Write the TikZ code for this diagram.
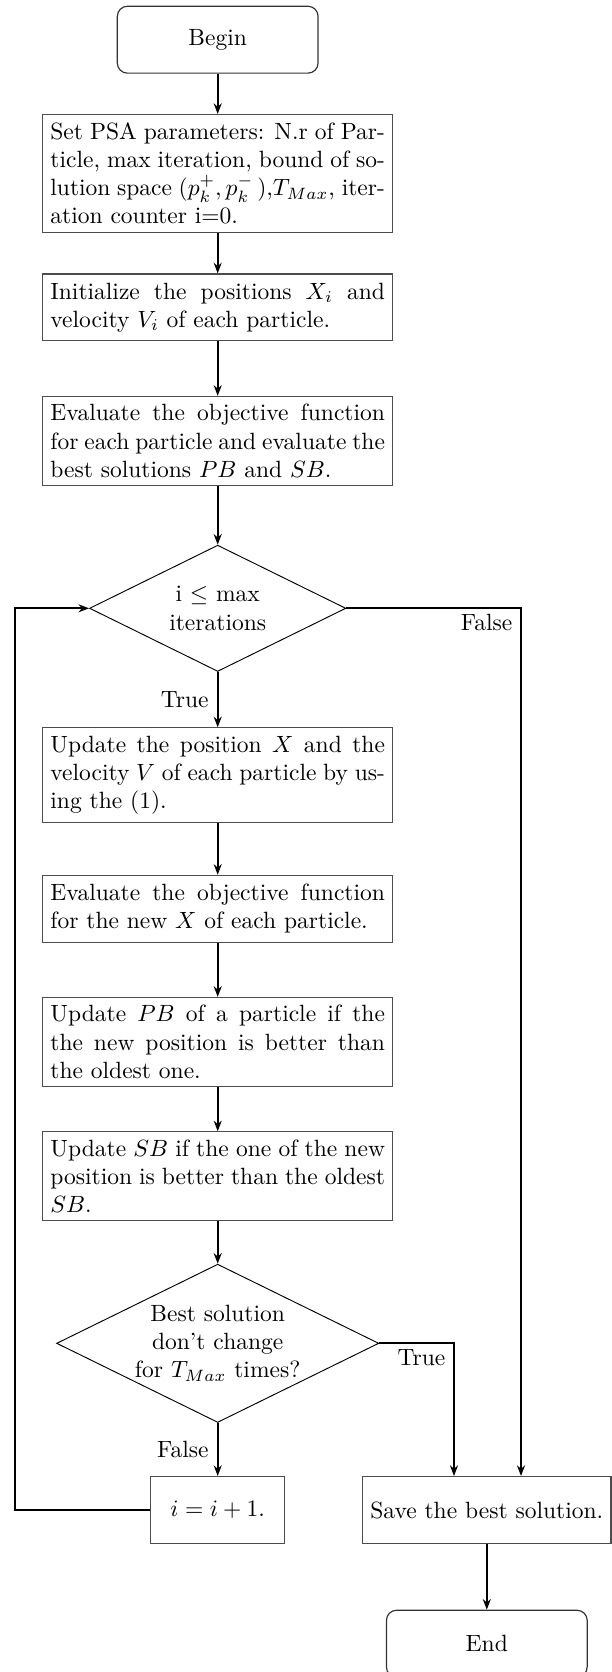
\documentclass[tikz,border=0pt]{standalone}
\usetikzlibrary{shapes.geometric,arrows.meta}

\tikzset{
  terminal/.style={draw=black!80, line width=0.5pt, rounded corners=4.3pt,
    minimum width=3cm, minimum height=1cm, align=center},
  process/.style={draw=black!70, line width=0.5pt, text width=5cm,
    minimum height=1cm, align=justify},
  smallbox/.style={draw=black!70, line width=0.5pt, minimum width=2cm,
    minimum height=1cm},
  decision/.style={draw, diamond, line width=0.4pt, inner sep=0pt},
  conn/.style={line width=0.8pt, -{Stealth[length=4.5pt,width=3.4pt]}},
  edgelabel/.style={inner xsep=3.5pt, inner ysep=2.5pt},
}

\begin{document}
\begin{tikzpicture}[x=0.4252pt, y=-0.4252pt]
  \useasboundingbox (0,0) rectangle (612,1672);

  % main column
  \node[terminal] (begin) at (217.7,39.7) {Begin};
  \node[process] (setpar) at (217.7,173.4) {Set PSA parameters: N.r of Particle, max iteration, bound of solution space $(p_k^+, p_k^-\,)$,$T_{Max}$, iteration counter i=0.};
  \node[process] (init) at (217.7,307.4) {Initialize the positions $X_i$ and velocity $V_i$ of each particle.};
  \node[process] (eval) at (217.7,440.9) {Evaluate the objective function for each particle and evaluate the best solutions $PB$ and $SB$.};
  \node[decision, minimum width=109pt, minimum height=53.7pt] (loopq) at (217.7,608.3) {};
  \node[align=center] (loopqtext) at (loopq.center) {i $\leq$ max\\iterations};
  \node[process] (update) at (217.7,775) {Update the position $X$ and the velocity $V$ of each particle by using the (1).};
  \node[process] (evalnew) at (217.7,908.8) {Evaluate the objective function for the new $X$ of each particle.};
  \node[process] (updpb) at (217.7,1041.9) {Update $PB$ of a particle if the the new position is better than the oldest one.};
  \node[process] (updsb) at (217.7,1176.2) {Update $SB$ if the one of the new position is better than the oldest $SB$.};
  \node[decision, minimum width=137pt, minimum height=67.3pt] (stopq) at (217.7,1343.3) {};
  \node[align=center] (stopqtext) at (stopq.center) {Best solution\\don't change\\for $T_{Max}$ times?};
  \node[smallbox] (incr) at (217.7,1510) {$i=i+1.$};

  % right column
  \node[smallbox] (save) at (486.8,1510) {Save the best solution.};
  \node[terminal] (end) at (486.8,1643.7) {End};

  % corner points of the routed connectors
  \coordinate (falsecorner) at (521,608.3);
  \coordinate (truecorner) at (454,1343.3);
  \coordinate (loopcorner) at (14.7,1510);

  % straight connectors
  \draw[conn] (begin) -- (setpar);
  \draw[conn] (setpar) -- (init);
  \draw[conn] (init) -- (eval);
  \draw[conn] (eval) -- (loopq.north);
  \draw[conn] (loopq.south) -- node[edgelabel, anchor=east] (lbltrue1) {True} (update);
  \draw[conn] (update) -- (evalnew);
  \draw[conn] (evalnew) -- (updpb);
  \draw[conn] (updpb) -- (updsb);
  \draw[conn] (updsb) -- (stopq.north);
  \draw[conn] (stopq.south) -- node[edgelabel, anchor=east] (lblfalse2) {False} (incr);
  \draw[conn] (save) -- (end);

  % routed connectors
  \draw[conn] (loopq.east) -- (falsecorner) -- (falsecorner |- save.north);
  \node[edgelabel, anchor=north east] (lblfalse1) at (falsecorner) {False};
  \draw[conn] (stopq.east) -- (truecorner) -- (truecorner |- save.north);
  \node[edgelabel, anchor=north east] (lbltrue2) at (truecorner) {True};
  \draw[conn] (incr.west) -- (loopcorner) |- (loopq.west);
\end{tikzpicture}
\end{document}
